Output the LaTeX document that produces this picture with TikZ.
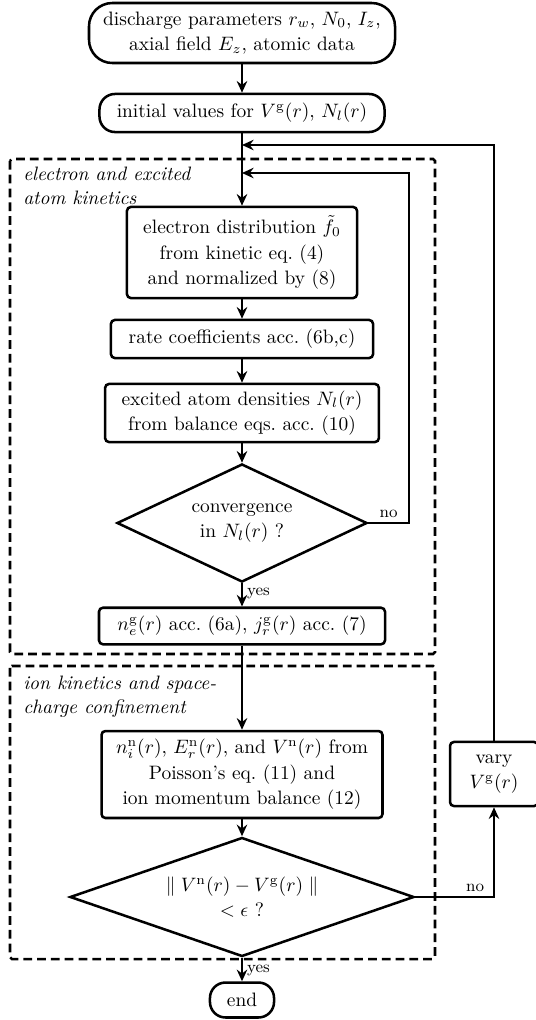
\documentclass[tikz,border=0pt]{standalone}
\usetikzlibrary{shapes.geometric,arrows.meta}

\tikzset{
  proc/.style={
    rectangle,
    draw,
    rounded corners=2pt,
    inner sep=2pt,
    text centered,
    align=center,
    font=\fontsize{10}{13.2}\selectfont
  },
  term/.style={
    rectangle,
    draw,
    inner sep=2pt,
    align=center,
    font=\fontsize{10}{13.2}\selectfont
  },
  test/.style={
    diamond,
    draw,
    inner sep=1pt,
    align=center,
    font=\fontsize{10}{13.2}\selectfont
  },
  group/.style={
    -,
    dash pattern=on 4.5pt off 2.6pt,
    rounded corners=1pt
  },
  grouplabel/.style={
    anchor=north west,
    inner sep=0pt,
    align=left,
    font=\fontsize{10}{12.4}\selectfont\itshape
  },
  lbl/.style={font=\fontsize{8.5}{9}\selectfont, inner sep=2pt},
}

\begin{document}
\begin{tikzpicture}[x=0.515pt, y=-0.515pt, ->,
    >={Stealth[length=6pt,width=5.4pt,inset=2pt]}, line width=1.3pt]
  \useasboundingbox (0,0) rectangle (536,1020);
  % dashed groups
  \draw[group] (10,159) rectangle (435,654);
  \draw[group] (10,666) rectangle (435,959);
  \node[grouplabel] (g1) at (22,166) {electron and excited\\atom kinetics};
  \node[grouplabel] (g2) at (22,675) {ion kinetics and space-\\charge confinement};
  % steps
  \node[term, rounded corners=12pt, minimum width=157.6pt, minimum height=30.9pt] (start) at (242,33)
    {discharge parameters $r_w$, $N_0$, $I_z$,\\axial field $E_z$, atomic data};
  \node[term, rounded corners=8pt, minimum width=146.8pt, minimum height=19.6pt] (init) at (242,113)
    {initial values for $V^{\mathrm{g}}(r)$, $N_l(r)$};
  \node[proc, minimum width=118.5pt, minimum height=46.9pt] (edist) at (242,252.5)
    {electron distribution $\tilde{f}_0$\\from kinetic eq.~(4)\\and normalized by (8)};
  \node[proc, minimum width=135pt, minimum height=19.6pt] (rate) at (242,339)
    {rate coefficients acc.~(6b,c)};
  \node[proc, minimum width=141pt, minimum height=29.9pt] (excited) at (242,413)
    {excited atom densities $N_l(r)$\\from balance eqs.~acc.~(10)};
  \node[test, aspect=2.12, minimum width=128.8pt, minimum height=60.8pt] (conv) at (242,523)
    {convergence\\in $N_l(r)$ ?};
  \node[proc, minimum width=147.3pt, minimum height=18.8pt] (dens) at (242,626)
    {$n_e^{\mathrm{g}}(r)$ acc.~(6a), $j_r^{\mathrm{g}}(r)$ acc.~(7)};
  \node[proc, minimum width=144.7pt, minimum height=44.8pt] (poisson) at (242,774.5)
    {$n_i^{\mathrm{n}}(r)$, $E_r^{\mathrm{n}}(r)$, and $V^{\mathrm{n}}(r)$ from\\Poisson's eq.~(11) and\\ion momentum balance (12)};
  \node[test, aspect=2.89, minimum width=177.2pt, minimum height=61.3pt] (check) at (242,897)
    {$\parallel V^{\mathrm{n}}(r) - V^{\mathrm{g}}(r) \parallel$\\$<\epsilon$ ?};
  \node[proc, minimum width=45.3pt, minimum height=33pt] (vary) at (494,774)
    {vary\\$V^{\mathrm{g}}(r)$};
  \node[term, rounded corners=8pt, minimum width=33pt, minimum height=18pt] (end) at (242,1000) {end};
  % loop points
  \coordinate (outer) at (242,145);
  \coordinate (inner) at (242,173);
  \coordinate (c1) at (409,173);
  % connectors
  \draw (start) -- (init);
  \draw (init) -- (edist);
  \draw (edist) -- (rate);
  \draw (rate) -- (excited);
  \draw (excited) -- (conv);
  \draw (conv) -- node[lbl, right, pos=0.45] {yes} (dens);
  \draw (dens) -- (poisson);
  \draw (poisson) -- (check);
  \draw (check) -- node[lbl, right, pos=0.55] {yes} (end);
  \draw (conv.east) -| node[lbl, above, pos=0.25] {no} (c1) -- (inner);
  \draw (check.east) -| node[lbl, above, pos=0.38] {no} (vary.south);
  \draw (vary.north) |- (outer);
\end{tikzpicture}
\end{document}
